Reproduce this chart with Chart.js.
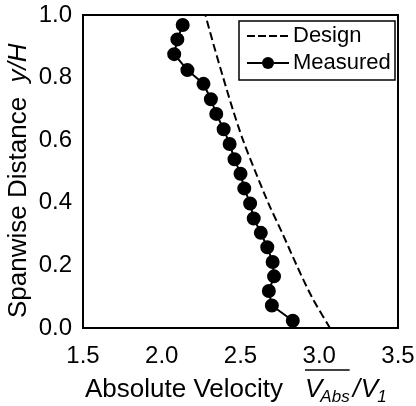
<!DOCTYPE html>
<html>
<head>
<meta charset="utf-8">
<script src="https://cdn.jsdelivr.net/npm/chart.js@4/dist/chart.umd.min.js"></script>
<style>
  html, body { margin: 0; padding: 0; background: #fff; }
  #chart { display: block; }
</style>
</head>
<body>
<canvas id="chart" width="416" height="406"></canvas>
<script>
// spanwise positions y/H and absolute velocity
const designSpan = [0.0, 0.1, 0.2, 0.3, 0.4, 0.5, 0.6, 0.7, 0.8, 0.9, 1.0];
const designVel = [3.068, 2.952, 2.857, 2.768, 2.676, 2.594, 2.516, 2.450, 2.390, 2.332, 2.277];

const measuredSpan = [0.023, 0.072, 0.118, 0.165, 0.211, 0.258, 0.304, 0.350, 0.398, 0.446, 0.493,
    0.539, 0.588, 0.635, 0.684, 0.731, 0.780, 0.824, 0.875, 0.922, 0.968];
const measuredVel = [2.832, 2.699, 2.680, 2.713, 2.704, 2.670, 2.629, 2.584, 2.561, 2.524, 2.500,
    2.462, 2.431, 2.393, 2.346, 2.312, 2.265, 2.163, 2.079, 2.099, 2.133];

const xTicks = [1.5, 2.0, 2.5, 3.0, 3.5];
const yTicks = [0.0, 0.2, 0.4, 0.6, 0.8, 1.0];

const FONT = '"Liberation Sans", Arial, sans-serif';

function toPoints(xs, ys) {
    return xs.map((x, i) => ({ x: x, y: ys[i] }));
}

// no automatic room for overhanging tick labels, layout.padding decides
function noLabelPadding(scale) {
    scale.paddingLeft = 0;
    scale.paddingRight = 0;
    scale.paddingTop = 0;
    scale.paddingBottom = 0;
}

// frame, legend box and the two axis titles (mixed italic / subscript)
const decorations = {
    id: 'decorations',
    afterDraw(chart) {
        const ctx = chart.ctx;
        const a = chart.chartArea;
        ctx.save();

        ctx.strokeStyle = '#000';
        ctx.lineWidth = 2;
        ctx.strokeRect(a.left, a.top, a.right - a.left, a.bottom - a.top);

        // legend
        const lx = 239, ly = 21, lw = 156, lh = 59;
        ctx.lineWidth = 1.5;
        ctx.strokeRect(lx, ly, lw, lh);
        ctx.lineWidth = 2;
        ctx.setLineDash([8, 3]);
        ctx.beginPath();
        ctx.moveTo(247, 36);
        ctx.lineTo(289, 36);
        ctx.stroke();
        ctx.setLineDash([]);
        ctx.beginPath();
        ctx.moveTo(247, 63);
        ctx.lineTo(289, 63);
        ctx.stroke();
        ctx.beginPath();
        ctx.arc(268, 63, 6, 0, Math.PI * 2);
        ctx.fillStyle = '#000';
        ctx.fill();

        ctx.font = '22px ' + FONT;
        ctx.textBaseline = 'middle';
        ctx.textAlign = 'left';
        const ds = chart.data.datasets;
        ctx.fillText(ds[0].label, 293, 36);
        ctx.fillText(ds[1].label, 293, 63);

        // x title
        ctx.textBaseline = 'alphabetic';
        let x = 85;
        const base = 397;
        ctx.font = '26px ' + FONT;
        ctx.fillText('Absolute Velocity', x, base);
        x = 305;
        ctx.font = 'italic 26px ' + FONT;
        ctx.fillText('V', x, base);
        const ovStart = x;
        x += ctx.measureText('V').width - 2;
        ctx.font = 'italic 17px ' + FONT;
        ctx.fillText('Abs', x, base + 5);
        x += ctx.measureText('Abs').width;
        ctx.lineWidth = 1.5;
        ctx.beginPath();
        ctx.moveTo(ovStart, 370);
        ctx.lineTo(x, 370);
        ctx.stroke();
        x += 3;
        ctx.font = 'italic 26px ' + FONT;
        ctx.fillText('/', x, base);
        x += ctx.measureText('/').width + 1;
        ctx.fillText('V', x, base);
        x += ctx.measureText('V').width - 1;
        ctx.font = 'italic 17px ' + FONT;
        ctx.fillText('1', x, base + 5);

        // y title, rotated
        ctx.translate(26, 318);
        ctx.rotate(-Math.PI / 2);
        ctx.font = '26px ' + FONT;
        ctx.fillText('Spanwise Distance', 0, 0);
        let w = ctx.measureText('Spanwise Distance  ').width;
        ctx.font = 'italic 26px ' + FONT;
        ctx.fillText('y/H', w, 0);

        ctx.restore();
    }
};

new Chart(document.getElementById('chart'), {
    type: 'scatter',
    data: {
        datasets: [
            {
                label: 'Design',
                data: toPoints(designVel, designSpan),
                showLine: true,
                borderColor: '#000',
                borderWidth: 2,
                borderDash: [8, 4],
                tension: 0.3,
                pointRadius: 0,
                fill: false
            },
            {
                label: 'Measured',
                data: toPoints(measuredVel, measuredSpan),
                showLine: true,
                borderColor: '#000',
                borderWidth: 2,
                pointRadius: 6,
                pointBackgroundColor: '#000',
                pointBorderColor: '#000',
                fill: false
            }
        ]
    },
    options: {
        responsive: false,
        animation: false,
        layout: { padding: { left: 0, right: 18, top: 15, bottom: 0 } },
        plugins: {
            legend: { display: false },
            tooltip: { enabled: false }
        },
        scales: {
            x: {
                type: 'linear',
                min: 1.5,
                max: 3.5,
                afterFit(scale) { scale.height = 78; noLabelPadding(scale); },
                afterBuildTicks(scale) { scale.ticks = xTicks.map(v => ({ value: v })); },
                grid: { display: false, drawTicks: false },
                border: { display: false },
                ticks: {
                    padding: 14,
                    color: '#000',
                    font: { family: FONT, size: 24 },
                    callback: v => v.toFixed(1)
                }
            },
            y: {
                type: 'linear',
                min: 0,
                max: 1,
                afterFit(scale) { scale.width = 83; noLabelPadding(scale); },
                afterBuildTicks(scale) { scale.ticks = yTicks.map(v => ({ value: v })); },
                grid: { display: false, drawTicks: false },
                border: { display: false },
                ticks: {
                    padding: 11,
                    color: '#000',
                    font: { family: FONT, size: 24 },
                    callback: v => v.toFixed(1)
                }
            }
        }
    },
    plugins: [decorations]
});
</script>
</body>
</html>
